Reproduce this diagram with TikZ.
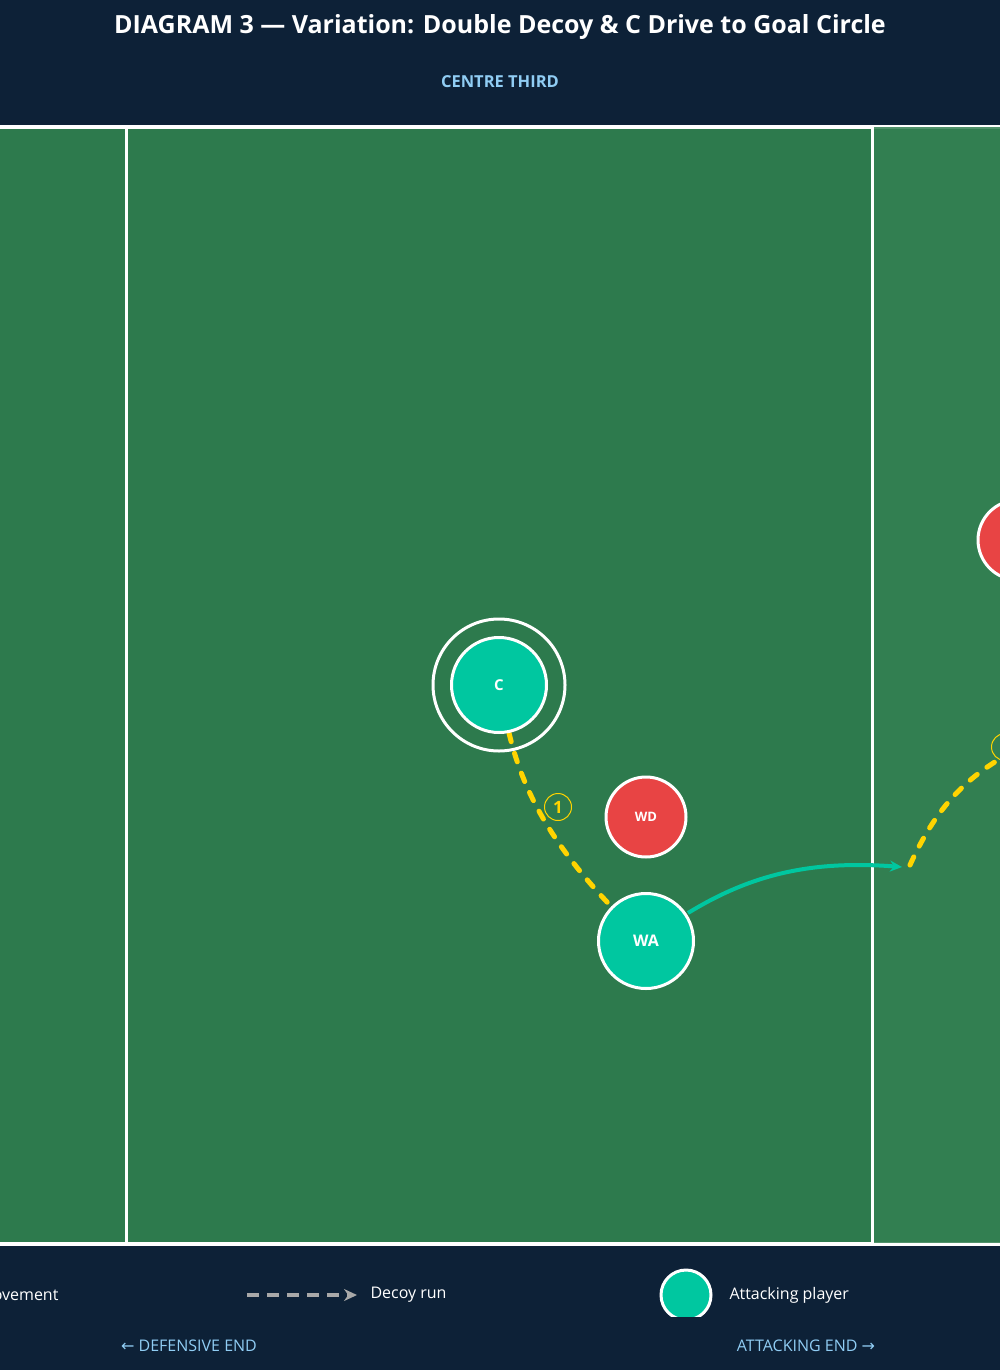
\documentclass[tikz,border=0pt]{standalone}
\usepackage{fontspec}
\setmainfont{Open Sans}
\newfontfamily\arrowfont{DejaVu Sans}
\usetikzlibrary{arrows.meta}
\definecolor{navy}{HTML}{0D2137}
\definecolor{pitch}{HTML}{2D7A4D}
\definecolor{pitchlight}{HTML}{338052}
\definecolor{attack}{HTML}{00C7A0}
\definecolor{defend}{HTML}{E84444}
\definecolor{decoy}{HTML}{FFD400}
\definecolor{skyblue}{HTML}{90CDF4}
\definecolor{legendgrey}{HTML}{A8A8A8}

\begin{document}
\begin{tikzpicture}[x=1pt,y=-1pt,
  player/.style={circle, draw=white, line width=3pt, text=white, inner sep=0pt},
  attacker/.style={player, fill=attack, minimum size=95pt, font=\bfseries\fontsize{15}{15}\selectfont},
  defender/.style={player, fill=defend, minimum size=80pt, font=\bfseries\fontsize{13}{13}\selectfont},
  decoyrun/.style={draw=decoy, line width=5pt, line cap=round, dash pattern=on 9pt off 12pt},
  steplabel/.style={circle, draw=decoy, line width=1pt, text=decoy, minimum size=27pt, inner sep=0pt, font=\bfseries\fontsize{17}{17}\selectfont},
  legendtext/.style={text=white, font=\fontsize{16}{16}\selectfont},
  endtext/.style={text=skyblue, font=\fontsize{16}{16}\selectfont}]
\useasboundingbox (0,0) rectangle (1000,1370);
\clip (0,0) rectangle (1000,1370);

% Header and footer
\fill[navy] (0,0) rectangle (1000,1370);
\node[text=white, font=\bfseries\fontsize{25}{25}\selectfont] (title) at (500,27) {DIAGRAM 3 — Variation: Double Decoy \& C Drive to Goal Circle};
\node[text=skyblue, font=\bfseries\fontsize{16.5}{16.5}\selectfont] (third) at (500,82) {CENTRE THIRD};

% Pitch
\fill[pitch] (-10,127) rectangle (1010,1244);
\draw[white, line width=3.5pt] (-10,127) -- (1010,127);
\draw[white, line width=3.5pt] (-10,1244) -- (1010,1244);
\draw[white, line width=3pt] (126.5,127) -- (126.5,1244);
\fill[pitchlight, opacity=0.85] (874,127.5) rectangle (1010,1243);
\draw[white, line width=3pt] (872.5,127) -- (872.5,1244);

% Player positions
\coordinate (pC) at (499,685);
\coordinate (pWD) at (646,817);
\coordinate (pWA) at (646,941);
\coordinate (pGD) at (1018,540);
\coordinate (drive) at (902,867);
\coordinate (lead) at (1020,748);

% Movement
\draw[decoyrun] (509,733) .. controls (525,800) and (560,860) .. (pWA);
\draw[attack, line width=4pt, -{Stealth[length=12pt,width=11pt]}] (688,913) .. controls (750,875) and (810,860) .. (drive);
\draw[decoyrun] (910,865) .. controls (935,810) and (965,775) .. (lead);
\node[steplabel] (one) at (558,807) {1};
\node[steplabel] (two) at (1005,747) {2};

% Players
\draw[white, line width=3pt] (pC) circle (66);
\node[attacker] (C) at (pC) {C};
\node[defender] (WD) at (pWD) {WD};
\node[attacker, font=\bfseries\fontsize{16}{16}\selectfont] (WA) at (pWA) {WA};
\node[defender] (GD) at (pGD) {};

% Legend
\node[legendtext, anchor=east] (movetext) at (62,1295) {Movement};
\draw[legendgrey, line width=4pt, dash pattern=on 12pt off 8pt, -{Stealth[length=13pt,width=12pt]}] (247,1295) -- (357,1295) coordinate (decoyend);
\node[legendtext, anchor=west] (decoytext) at (367,1295) {Decoy run};
\begin{scope}
\clip (600,1250) rectangle (800,1316);
\node[player, fill=attack, minimum size=50pt] (legplayer) at (686,1295) {};
\end{scope}
\node[legendtext, anchor=west] (playertext) at (726,1295) {Attacking player};
\node[endtext] (defend) at (189,1346) {{\arrowfont ←} DEFENSIVE END};
\node[endtext] (attackend) at (806,1346) {ATTACKING END {\arrowfont →}};
\end{tikzpicture}
\end{document}
